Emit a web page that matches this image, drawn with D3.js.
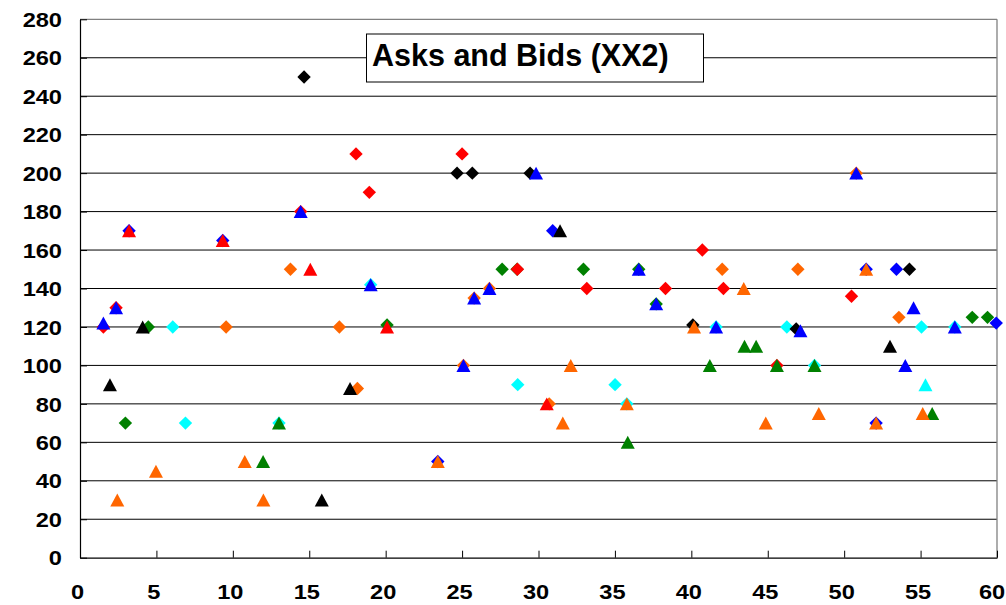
<!DOCTYPE html>
<html>
<head>
<meta charset="utf-8">
<script src="https://cdn.jsdelivr.net/npm/d3@7"></script>
<style>
  html, body { margin: 0; padding: 0; background: #fff; }
  svg { display: block; font-family: "Liberation Sans", Arial, sans-serif; }
</style>
</head>
<body>
<svg id="chart" width="1006" height="605"></svg>
<script>
// Asks (diamonds) and bids (triangles), one pair of series per colour: [x, price]
const askRed    = [[1.53,120],[2.36,130],[14.44,180],[18.06,210],[18.93,190],[25.0,210],[28.62,150],[33.16,140],[38.31,140],[40.72,160],[42.1,140],[45.6,100],[50.48,136]];
const bidRed    = [[3.21,170],[9.34,165],[15.07,150],[20.09,120],[30.54,80]];
const askBlue   = [[3.21,170],[9.34,165],[23.41,50],[30.93,170],[51.44,150],[52.09,70],[53.42,150],[59.95,122]];
const bidBlue   = [[1.53,122],[2.36,130],[14.44,180],[19.02,142],[25.09,100],[25.79,135],[26.79,140],[29.84,200],[36.56,150],[37.7,132],[41.62,120],[47.14,118],[50.79,200],[54.0,100],[54.54,130],[57.24,120]];
const askBlack  = [[14.66,250],[24.67,200],[25.67,200],[29.45,200],[40.1,121],[46.86,119],[54.27,150]];
const bidBlack  = [[1.96,90],[4.1,120],[15.82,30],[17.67,88],[31.41,170],[53.0,110]];
const askGreen  = [[2.97,70],[4.47,120],[20.09,121],[27.62,150],[28.6,150],[32.94,150],[36.56,150],[37.7,132],[58.38,125],[59.38,125]];
const bidGreen  = [[11.98,50],[13.02,70],[35.84,60],[41.21,100],[43.48,110],[44.24,110],[45.6,100],[48.06,100],[55.76,75]];
const askOrange = [[9.56,120],[13.77,150],[16.97,120],[18.15,88],[25.09,100],[25.79,135],[26.79,140],[30.7,80],[42.02,150],[46.97,150],[50.79,200],[53.58,125]];
const bidOrange = [[2.44,30],[4.97,45],[10.78,50],[12.0,30],[23.41,50],[31.59,70],[32.11,100],[35.78,80],[40.18,120],[43.43,140],[44.87,70],[48.34,75],[51.44,150],[52.09,70],[55.14,75]];
const askCyan   = [[6.07,120],[6.9,70],[13.02,70],[19.02,142],[28.64,90],[35.01,90],[35.78,80],[41.62,120],[46.25,120],[48.06,100],[55.06,120],[57.24,120]];
const bidCyan   = [[55.32,90]];

const xTicks = [0,5,10,15,20,25,30,35,40,45,50,55,60];
const yTicks = [0,20,40,60,80,100,120,140,160,180,200,220,240,260,280];
const title = "Asks and Bids (XX2)";

// Drawing order: diamonds below triangles
const askSeries = [
  {data: askGreen, color: "#008000"},
  {data: askCyan, color: "#00FFFF"},
  {data: askOrange, color: "#FF6600"},
  {data: askBlack, color: "#000000"},
  {data: askBlue, color: "#0000FF"},
  {data: askRed, color: "#FF0000"}
];
const bidSeries = [
  {data: bidBlack, color: "#000000"},
  {data: bidGreen, color: "#008000"},
  {data: bidCyan, color: "#00FFFF"},
  {data: bidOrange, color: "#FF6600"},
  {data: bidRed, color: "#FF0000"},
  {data: bidBlue, color: "#0000FF"}
];

const svg = d3.select("#chart");
const plotLeft = 80, plotRight = 997, plotTop = 19.3, plotBottom = 557.7;

const x = d3.scaleLinear().domain([0, 60]).range([plotLeft, plotRight]);
const y = d3.scaleLinear().domain([0, 280]).range([plotBottom, plotTop]);

// horizontal gridlines
svg.append("g")
  .selectAll("line")
  .data(yTicks.filter(v => v > 0 && v < 280))
  .join("line")
  .attr("x1", plotLeft).attr("x2", plotRight)
  .attr("y1", d => y(d)).attr("y2", d => y(d))
  .attr("stroke", "#000").attr("stroke-width", 1);

// top and right frame
svg.append("line").attr("x1", plotLeft).attr("x2", plotRight).attr("y1", y(280)).attr("y2", y(280))
  .attr("stroke", "#808080").attr("stroke-width", 1.3);
svg.append("line").attr("x1", plotRight).attr("x2", plotRight).attr("y1", y(280)).attr("y2", y(0))
  .attr("stroke", "#808080").attr("stroke-width", 1.3);

const stretch = 1.18;

// y axis, ticks pointing inward
const yAxis = svg.append("g").attr("transform", `translate(${plotLeft},0)`)
  .call(d3.axisRight(y).tickValues(yTicks).tickSize(7).tickSizeOuter(0).tickPadding(0));
yAxis.select(".domain").attr("stroke", "#000").attr("stroke-width", 1.2);
yAxis.selectAll(".tick line").attr("stroke", "#000");
yAxis.selectAll(".tick text")
  .attr("x", 0).attr("dy", "0.36em")
  .attr("text-anchor", "end")
  .attr("transform", `translate(-18,0) scale(${stretch},1)`)
  .attr("font-size", 20).attr("font-weight", "bold").attr("fill", "#000")
  .style("font-family", "'Liberation Sans', Arial, sans-serif");

// x axis, ticks pointing inward
const xAxis = svg.append("g").attr("transform", `translate(0,${plotBottom})`)
  .call(d3.axisTop(x).tickValues(xTicks).tickSize(7).tickSizeOuter(0).tickPadding(0));
xAxis.select(".domain").attr("stroke", "#000").attr("stroke-width", 1.2);
xAxis.selectAll(".tick line").attr("stroke", "#000");
xAxis.selectAll(".tick text")
  .attr("y", 0).attr("dy", 0)
  .attr("text-anchor", "middle")
  .attr("transform", d => `translate(${d === 60 ? -5.5 : -3},41.5) scale(${stretch},1)`)
  .attr("font-size", 20).attr("font-weight", "bold").attr("fill", "#000")
  .style("font-family", "'Liberation Sans', Arial, sans-serif");

// marker shapes: square diamond and upward triangle centred in its box
const diamondType = {
  draw(ctx, size) {
    const r = Math.sqrt(size / 2);
    ctx.moveTo(0, -r); ctx.lineTo(r, 0); ctx.lineTo(0, r); ctx.lineTo(-r, 0); ctx.closePath();
  }
};
const triangleType = {
  draw(ctx, size) {
    const h = Math.sqrt(size * 2 / 1.08), w = h * 1.08;
    ctx.moveTo(0, -h / 2); ctx.lineTo(w / 2, h / 2); ctx.lineTo(-w / 2, h / 2); ctx.closePath();
  }
};
const diamondPath = d3.symbol().type(diamondType).size(2 * 6.7 * 6.7)();
const trianglePath = d3.symbol().type(triangleType).size(13 * 14 / 2)();

const marks = svg.append("g");
askSeries.forEach(s => {
  marks.append("g").selectAll("path").data(s.data).join("path")
    .attr("d", diamondPath)
    .attr("transform", d => `translate(${x(d[0])},${y(d[1])})`)
    .attr("fill", s.color);
});
bidSeries.forEach(s => {
  marks.append("g").selectAll("path").data(s.data).join("path")
    .attr("d", trianglePath)
    .attr("transform", d => `translate(${x(d[0])},${y(d[1])})`)
    .attr("fill", s.color);
});

// title box
const tg = svg.append("g");
tg.append("rect").attr("x", 366.5).attr("y", 34).attr("width", 337).attr("height", 48)
  .attr("fill", "#fff").attr("stroke", "#000").attr("stroke-width", 1);
tg.append("text").text(title)
  .attr("x", 372).attr("y", 65.5)
  .attr("font-size", 30.5).attr("font-weight", "bold").attr("fill", "#000")
  .style("font-family", "'Liberation Sans', Arial, sans-serif");
</script>
</body>
</html>
